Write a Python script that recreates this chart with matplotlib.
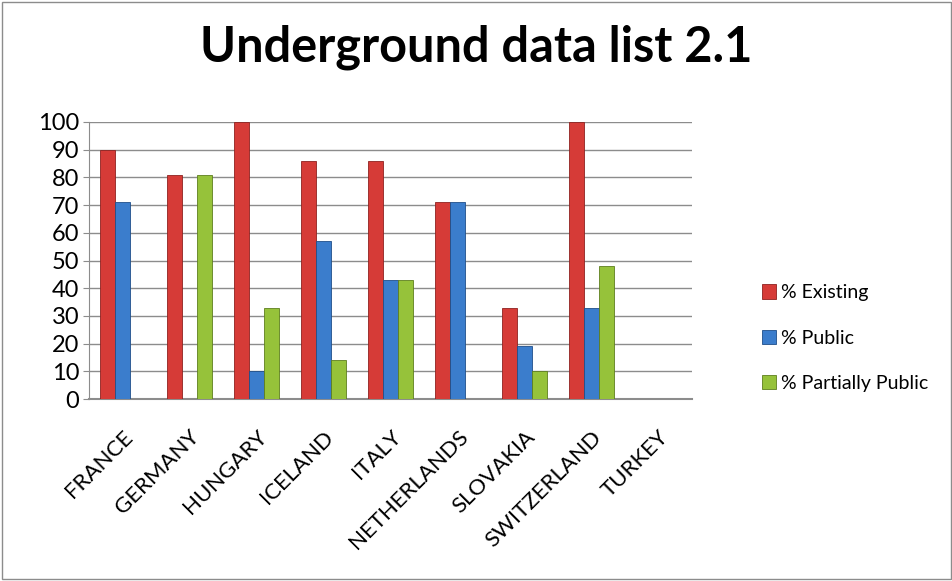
import matplotlib.pyplot as plt
import numpy as np

plt.rcParams['font.family'] = ['Lato', 'DejaVu Sans']

countries = ['FRANCE', 'GERMANY', 'HUNGARY', 'ICELAND', 'ITALY',
             'NETHERLANDS', 'SLOVAKIA', 'SWITZERLAND', 'TURKEY']
existing = [90, 81, 100, 86, 86, 71, 33, 100, 0]
public = [71, 0, 10, 57, 43, 71, 19, 33, 0]
partial = [0, 81, 33, 14, 43, 0, 10, 48, 0]
series_names = ['% Existing', '% Public', '% Partially Public']
colors = ['#D63B37', '#3B7DCC', '#96C23A']
edges = ['#8E2220', '#1F4F8A', '#5E7F1E']

fig = plt.figure(figsize=(9.53, 5.81), dpi=100)
# outer chart border
fig.patches.append(plt.Rectangle((0.002, 0.003), 0.996, 0.994, transform=fig.transFigure,
                                 fill=False, edgecolor='#8C8C8C', linewidth=1))
ax = fig.add_axes([89 / 953, 1 - 399 / 581, 603 / 953, 277 / 581])

x = np.arange(len(countries))
w = 0.225
for i, (vals, name) in enumerate(zip([existing, public, partial], series_names)):
    ax.bar(x + (i - 1) * w, vals, width=w, color=colors[i], edgecolor=edges[i],
           linewidth=0.6, label=name, zorder=3)

ax.set_xlim(-0.5, len(countries) - 0.5)
ax.set_ylim(0, 100)
ax.set_yticks(range(0, 101, 10))
ax.yaxis.grid(True, color='#8C8C8C', linewidth=1, zorder=0)
ax.set_axisbelow(True)
for side in ['top', 'right']:
    ax.spines[side].set_visible(False)
ax.spines['left'].set_color('#8C8C8C')
ax.spines['bottom'].set_color('#8C8C8C')
ax.spines['bottom'].set_linewidth(1.5)
ax.tick_params(axis='y', labelsize=17, length=4, color='#8C8C8C', pad=3)
ax.tick_params(axis='x', length=0, pad=20)
ax.set_xticks(x)
ax.set_xticklabels(countries, rotation=45, ha='right', va='top',
                   rotation_mode='anchor', fontsize=16)

fig.text(0.5, 1 - 47 / 581, 'Underground data list 2.1', ha='center', va='center',
         fontsize=35, fontweight='bold')

ax.legend(loc='center left', bbox_to_anchor=(752 / 953, 1 - 338 / 581),
          bbox_transform=fig.transFigure, frameon=False, fontsize=14,
          handlelength=0.75, handleheight=0.75, handletextpad=0.25, labelspacing=1.45,
          borderpad=0)

fig.savefig('out.png', dpi=100)
